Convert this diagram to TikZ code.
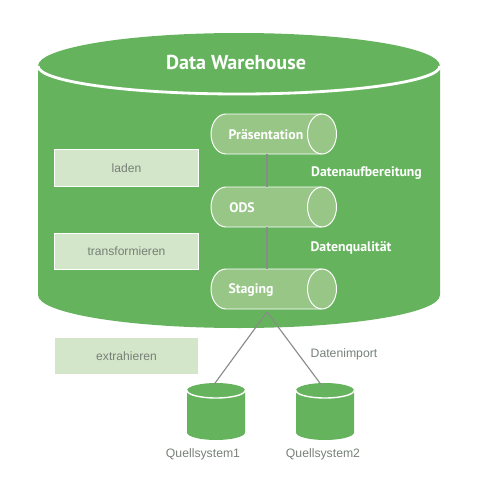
\documentclass[tikz,border=0pt]{standalone}
\usepackage{fontspec}
\setmainfont{Liberation Sans}
\newfontfamily\headfont{PT Sans}
\usetikzlibrary{positioning}
\definecolor{dwgreen}{RGB}{102, 179, 94}
\definecolor{layergreen}{RGB}{152, 198, 135}
\definecolor{stepgreen}{RGB}{211, 230, 201}
\definecolor{textgray}{RGB}{118, 128, 120}
\definecolor{linegray}{RGB}{135, 140, 135}
\tikzset{
    stepbox/.style={rectangle, minimum width=3.6cm, minimum height=0.92cm, fill=stepgreen, draw=white, line width=0.8pt, text=textgray, font=\fontsize{8.6}{10}\selectfont, inner sep=0pt},
    layerlabel/.style={font=\headfont\bfseries\fontsize{9.8}{11}\selectfont, text=white},
    graylabel/.style={font=\fontsize{8.7}{10}\selectfont, text=textgray},
    conn/.style={draw=linegray, line width=0.8pt},
    layerdb/.pic={
        \draw[draw=white, line width=0.7pt, fill=layergreen] (48,-20) -- (-48,-20)
            arc[start angle=-90, end angle=-270, x radius=15, y radius=20] -- (48,20)
            arc[start angle=90, end angle=-90, x radius=14.5, y radius=20] -- cycle;
        \draw[draw=white, line width=0.7pt] (48,-20) arc[start angle=-90, end angle=-270, x radius=14.5, y radius=20];
        \coordinate (-foot) at (-7,20);
        \coordinate (-head) at (-7,-20);
    },
    sourcedb/.pic={
        \fill[dwgreen] (-29,-21) arc[start angle=180, end angle=360, x radius=29, y radius=7.5] -- (29,21)
            arc[start angle=0, end angle=180, x radius=29, y radius=7.5] -- cycle;
        \draw[draw=white, line width=1pt] (-29,-21) arc[start angle=180, end angle=0, x radius=29, y radius=7.5];
        \coordinate (-top) at (0,-27);
    },
}
\begin{document}
\begin{tikzpicture}[x=0.025cm, y=-0.025cm]
    \useasboundingbox (0,0) rectangle (480,480);
    % Data Warehouse
    \fill[dwgreen] (38,66) arc[start angle=180, end angle=360, x radius=201, y radius=33] -- (440,295)
        arc[start angle=0, end angle=180, x radius=201, y radius=33] -- cycle;
    \draw[draw=white, line width=2pt] (38,66) arc[start angle=180, end angle=0, x radius=201, y radius=28];
    \node[font=\headfont\bfseries\fontsize{14.3}{16}\selectfont, text=white] (dwtitle) at (236,63) {Data Warehouse};

    % Datenschichten
    \pic (praes) at (274,134) {layerdb};
    \pic (ods) at (274,207) {layerdb};
    \pic (staging) at (274,289) {layerdb};
    \node[layerlabel] (praeslabel) at (266,135) {Präsentation};
    \node[layerlabel] (odslabel) at (242,208) {ODS};
    \node[layerlabel] (staginglabel) at (251,290) {Staging};
    \draw[conn] (praes-foot) -- (ods-head);
    \draw[conn] (ods-foot) -- (staging-head);
    \node[layerlabel] (aufbereitung) at (366.5,173) {Datenaufbereitung};
    \node[layerlabel] (qualitaet) at (351,248) {Datenqualität};

    % Schritte
    \node[stepbox] (laden) at (126.5,168) {laden};
    \node[stepbox] (transform) at (126.5,251.5) {transformieren};
    \node[stepbox, draw=none, minimum width=3.55cm, minimum height=0.88cm] (extract) at (126.5,356) {extrahieren};

    % Quellsysteme
    \pic (quelle1) at (216,411.5) {sourcedb};
    \pic (quelle2) at (325,411.5) {sourcedb};
    \coordinate (stagingfoot) at (267,312);
    \draw[conn] (stagingfoot) -- ([xshift=-2*0.025cm]quelle1-top);
    \draw[conn] (stagingfoot) -- ([xshift=-4*0.025cm]quelle2-top);
    \node[graylabel] (import) at (344,354) {Datenimport};
    \node[graylabel] (q1label) at (203,454) {Quellsystem1};
    \node[graylabel] (q2label) at (323,454) {Quellsystem2};
\end{tikzpicture}
\end{document}
